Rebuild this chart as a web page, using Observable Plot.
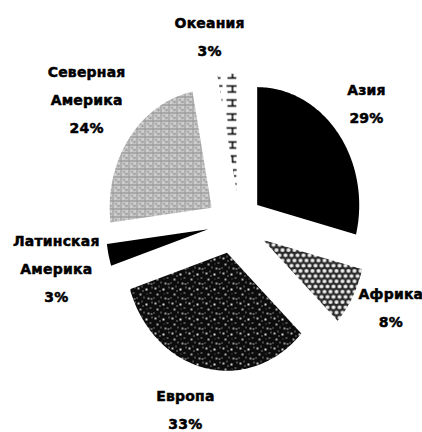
<!DOCTYPE html>
<html><head><meta charset="utf-8">
<script src="https://cdn.jsdelivr.net/npm/d3@7"></script>
<script src="https://cdn.jsdelivr.net/npm/@observablehq/plot@0.6"></script>
<style>body{margin:0;background:#fff}</style>
</head><body><div id="chart"></div>
<script>
// ---- data ----
const regions = ["Азия", "Африка", "Европа", "Латинская Америка", "Северная Америка", "Океания"];
const labelLines = [["Азия"], ["Африка"], ["Европа"], ["Латинская", "Америка"], ["Северная", "Америка"], ["Океания"]];
const shares = [29, 8, 33, 3, 24, 3];

// ---- layout / style ----
const W = 422, H = 432;
const cx = 233, cy = 223, rx = 102, ry = 118;
const explode = [30, 34, 30, 26, 27, 32];
const explodeShift = [0, 0, 0, 0, 0, 11];
const labelR = [1.65, 1.7, 1.65, 1.78, 1.78, 1.6];
const labelShift = [0, -4, 4, 0, 0, -3];
const fills = ["#000", "url(#p-af)", "url(#p-eu)", "#000", "url(#p-na)", "url(#p-oc)"];

const RAD = Math.PI / 180;
const total = d3.sum(shares);
let acc = 0;
const slices = shares.map((v, i) => {
  const a0 = acc / total * 360; acc += v; const a1 = acc / total * 360;
  return {i, region: regions[i], value: v, a0, a1, mid: (a0 + a1) / 2};
});
const polys = slices.map(s => {
  const ea = (s.mid + explodeShift[s.i]) * RAD;
  const ox = cx + explode[s.i] * Math.sin(ea);
  const oy = cy - explode[s.i] * Math.cos(ea);
  const pts = [{region: s.region, x: ox, y: oy}];
  const n = Math.max(2, Math.ceil(s.a1 - s.a0));
  for (let j = 0; j <= n; j++) {
    const a = (s.a0 + (s.a1 - s.a0) * j / n) * RAD;
    pts.push({region: s.region, x: ox + rx * Math.sin(a), y: oy - ry * Math.cos(a)});
  }
  pts.push({region: s.region, x: ox, y: oy});
  return pts;
});
const labels = slices.map(s => {
  const a = (s.mid + labelShift[s.i]) * RAD, k = labelR[s.i];
  return {
    x: cx + k * rx * Math.sin(a),
    y: cy - k * ry * Math.cos(a),
    text: [...labelLines[s.i], s.value + "%"].join("\n")
  };
});

const plot = Plot.plot({
  width: W, height: H, margin: 0,
  x: {domain: [0, W], range: [0, W], axis: null},
  y: {domain: [0, H], range: [0, H], axis: null},
  style: "background:#fff;font-family:'DejaVu Sans',sans-serif;letter-spacing:0.2px;",
  marks: [
    ...polys.map((p, i) => Plot.line(p, {x: "x", y: "y", fill: fills[i], stroke: "none", curve: "linear"})),
    Plot.text(labels, {x: "x", y: "y", dy: -4, text: "text", fontWeight: "bold", fontSize: 14, lineHeight: 2, fill: "#000", stroke: "#000", strokeWidth: 0.5})
  ]
});

// patterns
const defs = d3.select(plot).insert("defs", ":first-child");
// Africa: honeycomb dots
const af = defs.append("pattern").attr("id", "p-af").attr("patternUnits", "userSpaceOnUse").attr("width", 6).attr("height", 10.4);
af.append("rect").attr("width", 6).attr("height", 10.4).attr("fill", "#2a2a2a");
[[0,0],[6,0],[3,5.2],[0,10.4],[6,10.4]].forEach(([x,y]) => af.append("circle").attr("cx", x).attr("cy", y).attr("r", 2).attr("fill", "#eee"));
// Europe: dark speckle
const eu = defs.append("pattern").attr("id", "p-eu").attr("patternUnits", "userSpaceOnUse").attr("width", 17).attr("height", 15);
eu.append("rect").attr("width", 17).attr("height", 15).attr("fill", "#0c0c0c");
[[1,2,2,2,"#bbb"],[5,0,1,2,"#777"],[9,3,2,2,"#ddd"],[13,7,2,1,"#999"],[3,8,2,2,"#aaa"],[7,11,1,2,"#888"],[0,12,1,1,"#ccc"],[11,12,2,2,"#999"],[6,5,1,1,"#eee"],[15,1,1,2,"#888"],[10,8,1,1,"#666"],[14,13,2,1,"#bbb"]]
  .forEach(([x,y,w,h,c]) => eu.append("rect").attr("x", x).attr("y", y).attr("width", w).attr("height", h).attr("fill", c));
// North America: light grey mottled grid
const na = defs.append("pattern").attr("id", "p-na").attr("patternUnits", "userSpaceOnUse").attr("width", 8).attr("height", 8);
na.append("rect").attr("width", 8).attr("height", 8).attr("fill", "#c6c6c6");
na.append("rect").attr("x", 0).attr("y", 0).attr("width", 8).attr("height", 1).attr("fill", "#8c8c8c");
na.append("rect").attr("x", 0).attr("y", 0).attr("width", 1).attr("height", 8).attr("fill", "#999");
[[3,3,1,1,"#555"],[5,5,2,1,"#777"],[2,6,1,1,"#eee"],[6,2,1,1,"#e8e8e8"]]
  .forEach(([x,y,w,h,c]) => na.append("rect").attr("x", x).attr("y", y).attr("width", w).attr("height", h).attr("fill", c));
// Oceania: brick-like dashes on white
const oc = defs.append("pattern").attr("id", "p-oc").attr("patternUnits", "userSpaceOnUse").attr("width", 16).attr("height", 14);
oc.append("rect").attr("width", 16).attr("height", 14).attr("fill", "#fff");
oc.append("path").attr("d", "M2,1.5H14M8,1.5V7.5M3,7.5H12").attr("stroke", "#000").attr("stroke-width", 1.5).attr("fill", "none");

document.getElementById("chart").append(plot);
</script>
</body></html>
